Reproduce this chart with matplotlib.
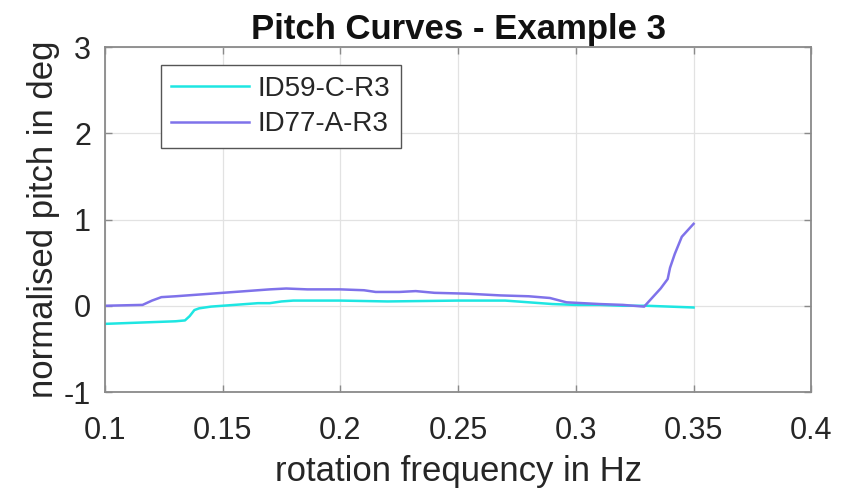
import matplotlib
matplotlib.use("Agg")
import matplotlib.pyplot as plt

plt.rcParams['font.family'] = ['Liberation Sans', 'DejaVu Sans']
plt.rcParams['axes.unicode_minus'] = False

# pitch curves, frequency in Hz vs normalised pitch in deg
freq_id59 = [0.1, 0.11, 0.12, 0.13, 0.134, 0.136, 0.138, 0.14, 0.145, 0.15, 0.16,
             0.165, 0.17, 0.175, 0.18, 0.2, 0.22, 0.25, 0.27, 0.28, 0.29, 0.3,
             0.31, 0.32, 0.33, 0.34, 0.35]
pitch_id59 = [-0.21, -0.2, -0.19, -0.18, -0.17, -0.12, -0.05, -0.03, -0.01, 0.0, 0.02,
              0.03, 0.03, 0.05, 0.06, 0.06, 0.05, 0.06, 0.06, 0.04, 0.02, 0.01,
              0.01, 0.0, 0.0, -0.01, -0.02]

freq_id77 = [0.1, 0.116, 0.12, 0.124, 0.13, 0.14, 0.15, 0.16, 0.17, 0.177, 0.186,
             0.2, 0.21, 0.215, 0.225, 0.232, 0.24, 0.254, 0.268, 0.28, 0.289,
             0.296, 0.31, 0.32, 0.329, 0.332, 0.336, 0.339, 0.340, 0.342, 0.345, 0.35]
pitch_id77 = [0.0, 0.01, 0.06, 0.1, 0.11, 0.13, 0.15, 0.17, 0.19, 0.2, 0.19,
              0.19, 0.18, 0.16, 0.16, 0.17, 0.15, 0.14, 0.12, 0.11, 0.09,
              0.04, 0.02, 0.01, -0.01, 0.08, 0.2, 0.31, 0.44, 0.6, 0.8, 0.95]

x_ticks = [0.1, 0.15, 0.2, 0.25, 0.3, 0.35, 0.4]
x_tick_labels = ['0.1', '0.15', '0.2', '0.25', '0.3', '0.35', '0.4']
y_ticks = [-1, 0, 1, 2, 3]

fig = plt.figure(figsize=(8.46, 4.9), dpi=100)
ax = fig.add_axes([0.124, 0.2, 0.835, 0.704])

ax.plot(freq_id59, pitch_id59, color='#1ee6e2', lw=1.8, label='ID59-C-R3')
ax.plot(freq_id77, pitch_id77, color='#7f72ea', lw=1.8, label='ID77-A-R3')

ax.set_xlim(0.1, 0.4)
ax.set_ylim(-1, 3)
ax.set_xticks(x_ticks)
ax.set_xticklabels(x_tick_labels)
ax.set_yticks(y_ticks)
ax.grid(True, color='#e2e2e2', lw=0.9)
ax.set_axisbelow(True)

for sp in ax.spines.values():
    sp.set_color('#8a8a8a')
    sp.set_linewidth(1.3)
ax.tick_params(direction='in', length=5, width=1, color='#8a8a8a',
               top=True, right=True, labelsize=22, labelcolor='#262626')
ax.tick_params(axis='x', pad=17)
ax.tick_params(axis='y', pad=10)

ax.set_xlabel('rotation frequency in Hz', fontsize=25, color='#262626', labelpad=7)
ax.set_ylabel('normalised pitch in deg', fontsize=25, color='#262626', labelpad=3)
ax.set_title('Pitch Curves - Example 3', fontsize=25, fontweight='bold',
             color='#111111', pad=6)

leg = ax.legend(loc='upper left', bbox_to_anchor=(0.079, 0.948), borderaxespad=0,
                fontsize=20, fancybox=False, framealpha=1, edgecolor='#555555',
                handlelength=2.8, handletextpad=0.3, labelspacing=0.35,
                borderpad=0.38)
leg.get_frame().set_linewidth(1.0)
for t in leg.get_texts():
    t.set_color('#262626')

fig.savefig('out.png', dpi=100)
